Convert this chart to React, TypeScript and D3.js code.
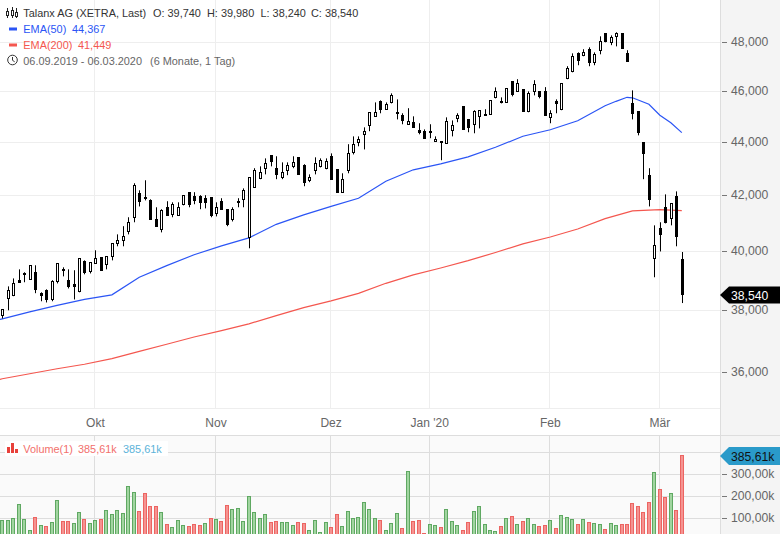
import * as d3 from 'd3';

const WIDTH = 780;
const HEIGHT = 534;

const opens = [
  37830, 38400, 38500, 39010, 39230, 39040, 39280, 38570, 38670, 38360,
  38970, 39350, 39010, 38870, 38630, 39660, 39310, 39590, 39800, 39550,
  39830, 40290, 40390, 40710, 41210, 42080, 41950, 41820, 41140, 40780,
  41570, 41320, 41280, 41680, 42120, 41970, 41970, 41900, 41930, 41350,
  41790, 41500, 41140, 41770, 41860, 40500, 42300, 42630, 43010, 43500,
  43010, 42670, 42930, 43080, 43420, 43120, 42560, 42930, 43080, 43010,
  43460, 42970, 42120, 42930, 43610, 43990, 44300, 44650, 45000, 45590,
  45280, 45550, 45170, 45040, 44690, 44770, 44460, 44420, 44420, 44030,
  44030, 43950, 44460, 44920, 45400, 44880, 44690, 45000, 45080, 45080,
  45750, 45590, 45550, 46400, 45990, 46080, 45200, 45990, 45990, 45990,
  44960, 45590, 45280, 46520, 46800, 47540, 47460, 47710, 47170, 47670,
  48380, 48000, 48250, 48380, 47540, 45510, 45200, 43990, 42740, 39760,
  40810, 41570, 41170, 41970, 39740,
];
const highs = [
  38030, 38800, 39070, 39380, 39280, 39520, 39520, 38600, 38700, 39010,
  39590, 39450, 39380, 39350, 39760, 39690, 39620, 40040, 39800, 39830,
  40280, 40600, 40890, 41210, 42450, 42190, 42560, 41860, 41570, 41500,
  41790, 41750, 41750, 42010, 42120, 42120, 42010, 42010, 41930, 41750,
  41900, 41500, 41570, 41900, 42260, 42670, 43010, 43080, 43380, 43500,
  43460, 43230, 43230, 43460, 43420, 43160, 42780, 43420, 43380, 43380,
  43570, 42970, 42820, 43920, 44220, 44220, 44570, 45160, 45550, 45630,
  45550, 45910, 45670, 45120, 45320, 45000, 44730, 44490, 44690, 44220,
  44030, 44960, 44840, 45120, 45400, 44880, 45240, 45240, 45280, 45630,
  46150, 45750, 46120, 46400, 46480, 46080, 45990, 46440, 45990, 46160,
  45240, 45670, 46320, 47010, 47540, 47580, 47710, 47790, 47580, 48250,
  48380, 48290, 48420, 48380, 47670, 46030, 45200, 43990, 43010, 40920,
  41030, 42040, 41710, 42150, 39980,
];
const lows = [
  37730, 38000, 38470, 38940, 38940, 39040, 38570, 38300, 38260, 38300,
  38900, 39140, 38730, 38360, 38600, 39210, 39240, 39590, 39350, 39380,
  39690, 40180, 40180, 40600, 41030, 41600, 41820, 41140, 40890, 40670,
  41280, 41210, 41280, 41640, 41570, 41680, 41500, 41530, 41210, 41240,
  41500, 40890, 41060, 41570, 41570, 40110, 42300, 42600, 42780, 43080,
  42600, 42600, 42750, 43010, 42780, 42340, 42490, 42780, 43040, 42970,
  42600, 42120, 42120, 42820, 43530, 43840, 43720, 44420, 45000, 45120,
  45280, 45510, 44880, 44690, 44690, 44570, 44300, 44150, 44150, 44030,
  43310, 43950, 44220, 44770, 44490, 44380, 44340, 44530, 45040, 45080,
  45710, 45510, 45550, 45790, 45990, 45200, 45160, 45830, 45710, 45040,
  44730, 45120, 45240, 46480, 46760, 47050, 47420, 47010, 47050, 47500,
  48000, 47880, 47830, 47750, 47210, 44880, 44260, 42600, 41600, 39110,
  40000, 40990, 40920, 40180, 38240,
];
const closes = [
  38030, 38670, 38900, 38940, 39270, 39520, 38700, 38500, 38360, 38970,
  39590, 39380, 38800, 38800, 39760, 39280, 39620, 39760, 39350, 39830,
  40280, 40390, 40530, 41030, 42370, 41790, 41920, 41140, 40890, 41460,
  41280, 41680, 41570, 42010, 41680, 41820, 41750, 41750, 41280, 41570,
  41500, 40960, 41500, 41800, 42190, 42670, 42930, 42860, 43190, 43270,
  42780, 42860, 43120, 43230, 42780, 42490, 42670, 43190, 43310, 43270,
  42600, 42120, 42600, 43570, 43920, 44110, 44420, 45160, 45160, 45280,
  45470, 45830, 45150, 44840, 44810, 44570, 44380, 44150, 44380, 44110,
  43990, 44810, 44650, 45040, 44490, 44570, 45200, 45240, 45040, 45630,
  45990, 45550, 46120, 45870, 46320, 45200, 45910, 46280, 45790, 45040,
  45120, 45510, 46320, 46920, 47420, 47250, 47580, 47170, 47500, 48040,
  48040, 48210, 48380, 47750, 47210, 45120, 44380, 43570, 41860, 40210,
  40600, 41030, 41710, 40530, 38540,
];

// volume in thousands
const volumes = [
  91, 91, 100, 164, 95, 45, 105, 68, 64, 82,
  182, 86, 86, 77, 127, 95, 77, 91, 95, 136,
  118, 136, 123, 245, 218, 132, 214, 155, 155, 127,
  73, 59, 91, 68, 64, 73, 68, 77, 100, 95,
  86, 159, 141, 145, 86, 200, 127, 100, 118, 82,
  86, 82, 82, 68, 82, 77, 45, 91, 36, 82,
  59, 118, 64, 132, 100, 105, 173, 141, 100, 91,
  45, 77, 123, 55, 314, 86, 91, 32, 73, 68,
  59, 141, 86, 68, 45, 82, 132, 155, 73, 45,
  41, 64, 100, 109, 73, 86, 100, 73, 64, 68,
  91, 55, 114, 105, 95, 73, 95, 82, 77, 73,
  50, 77, 68, 73, 73, 168, 155, 127, 173, 309,
  232, 195, 214, 136, 386,
];
const volumeDownDays = [
  6, 8, 11, 12, 15, 18, 25, 26, 27, 28, 30, 34, 35, 36, 38, 40, 41, 49, 50, 54, 55, 60, 61, 69,
  73, 75, 76, 77, 80, 84, 85, 91, 93, 95, 98, 99, 101, 105, 107, 110, 113, 114, 115, 116, 117,
  118, 120, 121, 123, 124,
];

const ema50Days = [
  -1, 0, 5, 10, 15, 20, 25, 30, 35, 40, 45, 50, 55, 60, 65, 70, 75, 80, 85, 90, 95, 100, 105, 110,
  112, 114, 115, 118, 120, 122, 124,
];
const ema50Values = [
  37668, 37717, 37948, 38165, 38365, 38516, 39108, 39509, 39886, 40197, 40478, 40957, 41298, 41605,
  41896, 42522, 42950, 43176, 43436, 43801, 44224, 44475, 44825, 45416, 45593, 45753, 45733, 45474,
  45041, 44747, 44367,
];
const ema200Days = [
  -1, 0, 5, 10, 15, 20, 25, 30, 35, 40, 45, 50, 55, 60, 65, 70, 75, 80, 85, 90, 95, 100, 105, 110,
  115, 120, 124,
];
const ema200Values = [
  35752, 35799, 35955, 36111, 36253, 36433, 36665, 36890, 37125, 37332, 37554, 37822, 38088, 38314,
  38566, 38904, 39193, 39426, 39682, 39963, 40267, 40507, 40789, 41160, 41438, 41485, 41449,
];

const priceTicks = [48000, 46000, 44000, 42000, 40000, 38000, 36000];
const volumeTicks = [100, 200, 300];
const volumeGrid = [100, 200, 300, 400];
const monthDays = [17, 39, 60, 78, 100, 120];
const monthLabels = ['Okt', 'Nov', 'Dez', "Jan '20", 'Feb', 'Mär'];

const FONT = '"Liberation Sans", Arial, sans-serif';
const BLUE = '#2b55f5';
const RED = '#f4574f';

const x = d3.scaleLinear().domain([0, 124]).range([2.3, 681.8]);
const y = d3.scaleLog().domain([48000, 36000]).range([42.3, 372.3]);
const yVol = d3.scaleLinear().domain([0, 100]).range([540.3, 518.3]);

const fmtPrice = (v: number) => d3.format(',')(v);
const fmtVol = (v: number) => `${v},00k`;

function linePath(days: number[], values: number[]) {
  return d3
    .line<number>()
    .x((d) => x(d))
    .y((_, i) => y(values[i]))(days) as string;
}

function Candles() {
  return (
    <g>
      {closes.map((c, i) => {
        const cx = Math.round(x(i)) + 0.5;
        const o = opens[i];
        const top = Math.round(y(Math.max(o, c))) + 0.5;
        const bottom = Math.round(y(Math.min(o, c))) + 0.5;
        return (
          <g key={i}>
            <line x1={cx} x2={cx} y1={y(highs[i])} y2={y(lows[i])} stroke="#000" strokeWidth={1} />
            <rect
              x={cx - 1}
              y={top}
              width={2}
              height={Math.max(bottom - top, 1)}
              fill={c >= o ? '#fff' : '#000'}
              stroke="#000"
              strokeWidth={1}
            />
          </g>
        );
      })}
    </g>
  );
}

function VolumeBars() {
  return (
    <g>
      {volumes.map((v, i) => {
        const down = volumeDownDays.includes(i);
        const left = Math.round(x(i) - 2) + 0.5;
        const top = Math.round(yVol(v)) + 0.5;
        return (
          <rect
            key={i}
            x={left}
            y={top}
            width={3}
            height={yVol(0) - top}
            fill={down ? '#f59391' : '#a1d5a0'}
            stroke={down ? '#ec6461' : '#5fa862'}
            strokeWidth={1}
          />
        );
      })}
    </g>
  );
}

function Legend() {
  const label = { fontFamily: FONT, fontSize: 10.9 };
  return (
    <g style={label}>
      {/* candle icon */}
      <g stroke="#222" fill="#fff" strokeWidth={1}>
        <path d="M7.5 8v10M12.5 7v11M16.5 8v10" fill="none" />
        <rect x={6.5} y={11.5} width={2} height={4} />
        <rect x={11.5} y={10.5} width={2} height={5} />
        <rect x={15.5} y={12.5} width={2} height={4} />
      </g>
      <text x={23.3} y={16.5} fill="#333">Talanx AG (XETRA, Last)</text>
      <text x={153} y={16.5} fill="#333">O: {fmtPrice(39740)}</text>
      <text x={207} y={16.5} fill="#333">H: {fmtPrice(39980)}</text>
      <text x={260.5} y={16.5} fill="#333">L: {fmtPrice(38240)}</text>
      <text x={311} y={16.5} fill="#333">C: {fmtPrice(38540)}</text>

      <rect x={9} y={27.5} width={8} height={3} fill={BLUE} />
      <text x={23.3} y={33} fill={BLUE}>EMA(50)</text>
      <text x={72} y={33} fill={BLUE}>44,367</text>

      <rect x={9} y={43.5} width={8} height={3} fill={RED} />
      <text x={23.3} y={49} fill={RED}>EMA(200)</text>
      <text x={78} y={49} fill={RED}>41,449</text>

      {/* clock icon */}
      <circle cx={12.5} cy={60} r={4.8} fill="none" stroke="#333" strokeWidth={1} />
      <path d="M12.5 57v3.3l2.2 1.5" fill="none" stroke="#333" strokeWidth={1} />
      <text x={23.3} y={64.5} fill="#666">06.09.2019 - 06.03.2020</text>
      <text x={150} y={64.5} fill="#666">(6 Monate, 1 Tag)</text>
    </g>
  );
}

export default function App() {
  return (
    <svg
      width={WIDTH}
      height={HEIGHT}
      viewBox={`0 0 ${WIDTH} ${HEIGHT}`}
      style={{ position: 'absolute', left: 0, top: 0, background: '#fff' }}
    >
      {/* right axis column */}
      <rect x={720} y={0} width={60} height={HEIGHT} fill="#f4f4f4" />

      {/* price grid */}
      {priceTicks.map((t) => (
        <line key={t} x1={0} x2={720} y1={y(t)} y2={y(t)} stroke="#eeeeee" strokeWidth={1} shapeRendering="crispEdges" />
      ))}
      {monthDays.map((d) => (
        <line key={d} x1={x(d) - 0.5} x2={x(d) - 0.5} y1={0} y2={408} stroke="#eeeeee" strokeWidth={1} shapeRendering="crispEdges" />
      ))}

      <path d={linePath(ema200Days, ema200Values)} fill="none" stroke={RED} strokeWidth={1.2} />
      <path d={linePath(ema50Days, ema50Values)} fill="none" stroke={BLUE} strokeWidth={1.2} />
      <Candles />

      <Legend />

      {/* month labels */}
      {monthDays.map((d, i) => (
        <text key={d} x={x(d)} y={427} textAnchor="middle" fontFamily={FONT} fontSize={12} fill="#666">
          {monthLabels[i]}
        </text>
      ))}
      <line x1={0} x2={720} y1={408} y2={408} stroke="#eeeeee" shapeRendering="crispEdges" />

      {/* price axis */}
      <line x1={720.5} x2={720.5} y1={0} y2={HEIGHT} stroke="#dddddd" />
      {priceTicks.map((t) => (
        <g key={t}>
          <line x1={722} x2={727} y1={y(t)} y2={y(t)} stroke="#777" shapeRendering="crispEdges" />
          <text x={731} y={y(t) + 3.7} fontFamily={FONT} fontSize={12.2} fill="#666">
            {fmtPrice(t)}
          </text>
        </g>
      ))}
      <path
        d={`M720 ${y(38540) + 1}L729 ${y(38540) - 7.5}H780V${y(38540) + 9.5}H729Z`}
        fill="#000"
      />
      <text x={731} y={y(38540) + 5.5} fontFamily={FONT} fontSize={12.2} fill="#fff">
        {fmtPrice(38540)}
      </text>

      {/* volume panel */}
      <rect x={0} y={435} width={720} height={99} fill="#fafafa" />
      <line x1={0} x2={780} y1={435} y2={435} stroke="#dddddd" shapeRendering="crispEdges" />
      {volumeGrid.map((t) => (
        <line key={t} x1={0} x2={720} y1={yVol(t)} y2={yVol(t)} stroke="#dddddd" shapeRendering="crispEdges" />
      ))}
      {monthDays.map((d) => (
        <line key={d} x1={x(d) - 0.5} x2={x(d) - 0.5} y1={435} y2={HEIGHT} stroke="#dddddd" shapeRendering="crispEdges" />
      ))}
      <VolumeBars />

      <rect x={5} y={441} width={163} height={15} fill="#fff" />
      <g fill="#e8403a">
        <rect x={7} y={447} width={3} height={6} />
        <rect x={11} y={443} width={3} height={10} />
        <rect x={15} y={449} width={3} height={4} />
      </g>
      <g fontFamily={FONT} fontSize={10.9}>
        <text x={23.3} y={453} fill="#f2706c">Volume(1)</text>
        <text x={78} y={453} fill="#f2706c">385,61k</text>
        <text x={123} y={453} fill="#5cb3d9">385,61k</text>
      </g>

      {volumeTicks.map((t) => (
        <g key={t}>
          <line x1={722} x2={727} y1={yVol(t)} y2={yVol(t)} stroke="#777" shapeRendering="crispEdges" />
          <text x={731} y={yVol(t) + 3.7} fontFamily={FONT} fontSize={12.2} fill="#666">
            {fmtVol(t)}
          </text>
        </g>
      ))}
      <path d="M720 456L729 447H780V465H729Z" fill="#2a9ac9" />
      <text x={731} y={460.5} fontFamily={FONT} fontSize={12.2} fill="#111">385,61k</text>
    </svg>
  );
}
